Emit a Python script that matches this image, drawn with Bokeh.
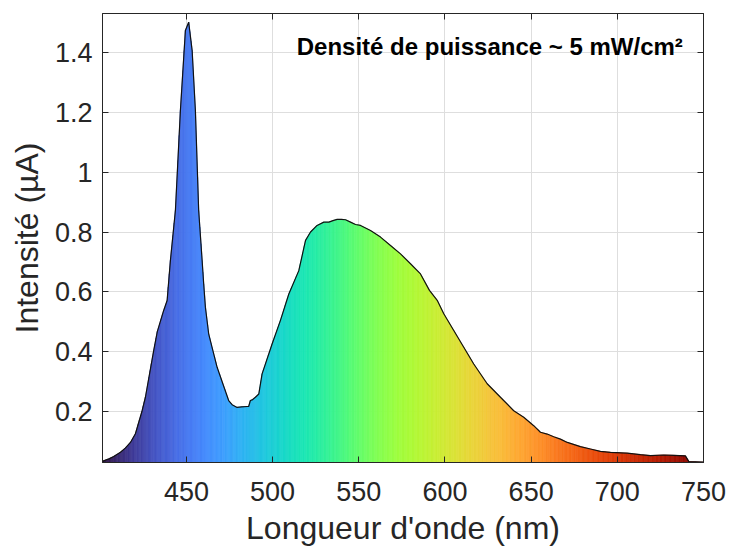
import numpy as np
from bokeh.plotting import figure
from bokeh.models import LinearAxis, FixedTicker, Range1d, ColumnDataSource, Label
from bokeh.palettes import Turbo256
from bokeh.embed import file_html
from bokeh.resources import INLINE

# ---- data ----
wavelength = [401.3, 402.0, 405.0, 407.8, 411.7, 414.5, 417.5, 420.4, 424.3, 426.2,
              431.0, 433.1, 436.8, 438.8, 440.7, 443.6, 446.5, 449.4, 451.3, 453.3,
              455.2, 457.1, 459.1, 460.0, 461.0, 462.9, 464.9, 467.8, 474.5, 476.5,
              479.4, 482.0, 485.2, 486.1, 487.1, 488.1, 490.0, 492.0, 493.9, 499.7,
              504.5, 509.4, 515.2, 519.1, 522.0, 525.8, 529.7, 532.6, 535.0, 537.4,
              540.0, 542.3, 545.2, 548.1, 551.0, 556.8, 562.6, 568.4, 574.2, 580.0,
              585.8, 591.0, 595.5, 599.3, 605.1, 610.9, 616.7, 624.5, 632.2, 639.9,
              645.7, 651.5, 655.4, 659.3, 663.1, 667.0, 671.0, 678.6, 684.4, 690.2,
              696.0, 705.7, 713.4, 719.2, 726.9, 732.7, 739.5, 741.5, 750.0]
intensity = [0.032, 0.036, 0.042, 0.050, 0.064, 0.078, 0.097, 0.126, 0.203, 0.248,
             0.404, 0.467, 0.538, 0.571, 0.705, 0.872, 1.206, 1.473, 1.501, 1.407,
             1.206, 0.872, 0.705, 0.627, 0.549, 0.460, 0.414, 0.348, 0.237, 0.223,
             0.214, 0.216, 0.217, 0.217, 0.237, 0.239, 0.248, 0.259, 0.326, 0.426,
             0.504, 0.593, 0.671, 0.772, 0.800, 0.822, 0.833, 0.833, 0.838, 0.842,
             0.842, 0.841, 0.833, 0.825, 0.822, 0.805, 0.783, 0.755, 0.727, 0.694,
             0.660, 0.605, 0.572, 0.527, 0.471, 0.415, 0.359, 0.293, 0.248, 0.203,
             0.181, 0.153, 0.131, 0.125, 0.116, 0.108, 0.097, 0.083, 0.075, 0.067,
             0.064, 0.061, 0.056, 0.053, 0.055, 0.054, 0.052, 0.033, 0.031]

x_ticks = [450, 500, 550, 600, 650, 700, 750]
y_ticks = [0.2, 0.4, 0.6, 0.8, 1.0, 1.2, 1.4]
y_tick_labels = ["0.2", "0.4", "0.6", "0.8", "1", "1.2", "1.4"]
annotation = "Densité de puissance ~ 5 mW/cm²"
x_label = "Longueur d'onde (nm)"
y_label = "Intensité (µA)"

AX = "#262626"
FONT = "Liberation Sans"

p = figure(frame_width=601, frame_height=449, output_backend="svg", toolbar_location=None,
           x_range=Range1d(401.3, 750), y_range=Range1d(0.03, 1.53),
           min_border_left=102, min_border_right=26, min_border_top=13,
           min_border_bottom=80)
p.background_fill_color = "white"
p.border_fill_color = "white"
p.outline_line_color = AX
p.outline_line_width = 1

# grid
p.xgrid.ticker = FixedTicker(ticks=x_ticks)
p.ygrid.ticker = FixedTicker(ticks=y_ticks)
p.grid.grid_line_color = "#dedede"
p.grid.grid_line_width = 1

# gradient fill under the curve (turbo colormap by wavelength)
wl = np.array(wavelength, dtype=float)
it = np.array(intensity, dtype=float)
xs_list, ys_list, cols = [], [], []
for i in range(len(wl) - 1):
    x0, x1, y0, y1 = wl[i], wl[i + 1], it[i], it[i + 1]
    n = max(1, int(np.ceil((x1 - x0) / 0.8)))
    for k in range(n):
        fa, fb = k / n, (k + 1) / n
        a, b = x0 + (x1 - x0) * fa, x0 + (x1 - x0) * fb
        ya, yb = y0 + (y1 - y0) * fa, y0 + (y1 - y0) * fb
        xs_list.append([a, a, b, b])
        ys_list.append([0.0, ya, yb, 0.0])
        idx = int(np.clip(round(((a + b) / 2 - 400.0) / 350.0 * 255), 0, 255))
        cols.append(Turbo256[idx])
src = ColumnDataSource(dict(xs=xs_list, ys=ys_list, color=cols))
p.patches(xs="xs", ys="ys", fill_color="color", line_color="color",
          line_width=0.7, source=src)
p.line(wavelength, intensity, line_color="#111111", line_width=1.2)

# axes
for ax in (p.xaxis[0], p.yaxis[0]):
    ax.major_tick_in = 6
    ax.major_tick_out = 0
    ax.minor_tick_line_color = None
    ax.axis_line_color = AX
    ax.major_tick_line_color = AX
    ax.major_label_text_color = AX
    ax.major_label_text_font = FONT
    ax.major_label_text_font_size = "27px"
    ax.axis_label_text_font = FONT
    ax.axis_label_text_font_size = "32px"
    ax.axis_label_text_font_style = "normal"
    ax.axis_label_text_color = AX

p.xaxis.ticker = FixedTicker(ticks=x_ticks)
p.yaxis.ticker = FixedTicker(ticks=y_ticks)
p.yaxis.major_label_overrides = {v: s for v, s in zip(y_ticks, y_tick_labels)}
p.xaxis.axis_label = x_label
p.yaxis.axis_label = y_label
p.xaxis.major_label_standoff = 19
p.xaxis.axis_label_standoff = 6
p.yaxis.major_label_standoff = 10
p.yaxis.axis_label_standoff = 7

# mirrored ticks on top and right (no labels)
def mirror_axis():
    return LinearAxis(major_label_text_font_size="0px", major_label_text_color=None,
                      major_tick_in=6, major_tick_out=0, minor_tick_line_color=None,
                      major_label_standoff=0, axis_line_color=AX, major_tick_line_color=AX)

top_ax = mirror_axis()
top_ax.ticker = FixedTicker(ticks=x_ticks)
right_ax = mirror_axis()
right_ax.ticker = FixedTicker(ticks=y_ticks)
p.add_layout(top_ax, "above")
p.add_layout(right_ax, "right")

# annotation
p.add_layout(Label(x=626, y=1.421, text=annotation, text_align="center",
                   text_baseline="alphabetic", text_font=FONT, text_font_style="bold",
                   text_font_size="24px", text_color="black"))

open("out.html", "w").write(file_html(p, INLINE))
